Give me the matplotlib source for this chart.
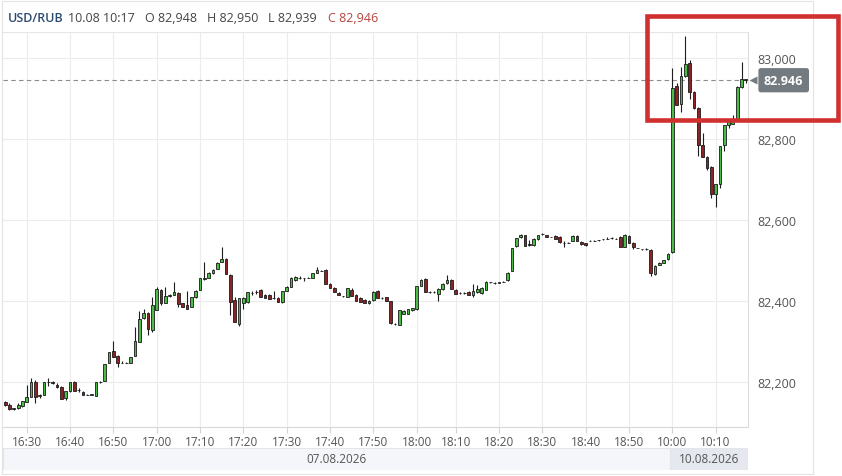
import matplotlib
matplotlib.use('Agg')
import matplotlib.pyplot as plt
import matplotlib.transforms as mtransforms
from matplotlib.patches import Rectangle
import numpy as np
import pandas as pd

plt.rcParams['font.family'] = ['Open Sans', 'DejaVu Sans']

symbol = 'USD/RUB'
day1_start, day1_end = '2026-08-07 16:25', '2026-08-07 18:59'
day1_missing = '2026-08-07 18:04'
day2_start, day2_end = '2026-08-10 10:00', '2026-08-10 10:17'
price_ticks = [82200, 82400, 82600, 82800, 83000]

# 1-minute candles
opens = [82151, 82145, 82135, 82137, 82142, 82151, 82165, 82202, 82167, 82169,
         82200, 82200, 82194, 82188, 82161, 82178, 82200, 82182, 82177, 82170,
         82170, 82167, 82200, 82204, 82247, 82277, 82266, 82249, 82249, 82249,
         82265, 82299, 82358, 82371, 82330, 82380, 82428, 82397, 82414, 82417,
         82421, 82395, 82390, 82387, 82410, 82429, 82455, 82457, 82470, 82480,
         82498, 82505, 82466, 82404, 82345, 82396, 82398, 82421, 82422, 82428,
         82417, 82417, 82408, 82408, 82399, 82426, 82436, 82452, 82459, 82457,
         82459, 82459, 82470, 82476, 82477, 82444, 82433, 82421, 82413, 82412,
         82429, 82417, 82408, 82404, 82395, 82404, 82425, 82408, 82410, 82400,
         82345, 82343, 82370, 82370, 82378, 82381, 82439, 82455, 82423, 82422,
         82418, 82430, 82446, 82453, 82429, 82421, 82421, 82423, 82415, 82422,
         82421, 82429, 82447, 82445, 82446, 82449, 82452, 82475, 82536, 82558,
         82563, 82541, 82539, 82554, 82566, 82563, 82559, 82562, 82560, 82545,
         82545, 82549, 82561, 82547, 82543, 82549, 82550, 82551, 82553, 82555,
         82557, 82555, 82559, 82535, 82561, 82545, 82532, 82529, 82529, 82527,
         82467, 82490, 82496, 82504, 82521, 82932, 82887, 82956, 82989, 82918,
         82878, 82786, 82757, 82732, 82664, 82691, 82786, 82835, 82839, 82848,
         82930, 82948]
highs = [82153, 82149, 82137, 82149, 82155, 82194, 82210, 82205, 82172, 82202,
         82210, 82204, 82198, 82190, 82178, 82202, 82203, 82186, 82179, 82171,
         82171, 82201, 82204, 82245, 82275, 82302, 82268, 82252, 82250, 82262,
         82338, 82376, 82381, 82373, 82410, 82435, 82431, 82435, 82418, 82447,
         82423, 82397, 82426, 82412, 82428, 82459, 82497, 82472, 82480, 82498,
         82534, 82507, 82468, 82410, 82408, 82410, 82424, 82426, 82428, 82430,
         82419, 82419, 82426, 82410, 82426, 82438, 82460, 82463, 82462, 82458,
         82460, 82470, 82486, 82478, 82479, 82446, 82435, 82423, 82414, 82434,
         82433, 82419, 82410, 82405, 82403, 82426, 82427, 82412, 82412, 82402,
         82346, 82380, 82378, 82382, 82384, 82437, 82455, 82458, 82426, 82426,
         82433, 82446, 82464, 82455, 82431, 82422, 82422, 82425, 82443, 82441,
         82435, 82451, 82449, 82447, 82448, 82451, 82472, 82533, 82557, 82567,
         82565, 82551, 82556, 82565, 82569, 82565, 82560, 82564, 82562, 82548,
         82546, 82564, 82563, 82548, 82544, 82551, 82551, 82552, 82554, 82558,
         82559, 82557, 82561, 82566, 82563, 82546, 82533, 82530, 82533, 82529,
         82489, 82497, 82503, 82519, 82975, 82938, 82979, 83055, 82996, 82920,
         82880, 82815, 82759, 82734, 82691, 82784, 82835, 82845, 82860, 82931,
         82992, 82950]
lows = [82142, 82133, 82132, 82135, 82140, 82151, 82165, 82149, 82161, 82168,
        82190, 82196, 82186, 82158, 82157, 82176, 82180, 82177, 82169, 82169,
        82169, 82167, 82198, 82204, 82247, 82263, 82239, 82247, 82248, 82247,
        82265, 82299, 82356, 82316, 82325, 82380, 82390, 82395, 82410, 82417,
        82386, 82385, 82381, 82385, 82408, 82429, 82454, 82457, 82468, 82480,
        82497, 82467, 82367, 82349, 82340, 82382, 82396, 82417, 82418, 82410,
        82408, 82406, 82406, 82398, 82397, 82425, 82435, 82450, 82456, 82451,
        82458, 82458, 82469, 82475, 82443, 82432, 82422, 82416, 82412, 82410,
        82414, 82400, 82399, 82397, 82394, 82402, 82408, 82405, 82402, 82345,
        82343, 82342, 82368, 82368, 82377, 82380, 82437, 82422, 82420, 82420,
        82400, 82428, 82444, 82430, 82418, 82419, 82419, 82415, 82410, 82420,
        82419, 82428, 82446, 82443, 82445, 82448, 82450, 82474, 82535, 82556,
        82537, 82537, 82537, 82552, 82563, 82558, 82558, 82555, 82545, 82535,
        82543, 82548, 82549, 82540, 82538, 82548, 82549, 82550, 82552, 82553,
        82555, 82554, 82535, 82534, 82543, 82530, 82531, 82528, 82528, 82462,
        82466, 82489, 82495, 82503, 82519, 82886, 82868, 82955, 82899, 82876,
        82759, 82757, 82724, 82656, 82634, 82679, 82772, 82827, 82837, 82846,
        82928, 82939]
closes = [82145, 82134, 82137, 82145, 82153, 82165, 82202, 82165, 82168, 82201,
          82201, 82199, 82188, 82159, 82178, 82200, 82180, 82181, 82170, 82170,
          82171, 82200, 82201, 82245, 82275, 82263, 82247, 82249, 82249, 82262,
          82302, 82356, 82371, 82333, 82390, 82431, 82395, 82414, 82415, 82422,
          82394, 82385, 82381, 82410, 82426, 82457, 82459, 82471, 82478, 82496,
          82504, 82467, 82398, 82349, 82408, 82408, 82422, 82421, 82423, 82410,
          82408, 82406, 82409, 82398, 82425, 82436, 82459, 82461, 82459, 82457,
          82459, 82469, 82477, 82476, 82443, 82432, 82422, 82417, 82413, 82433,
          82414, 82400, 82399, 82397, 82402, 82424, 82408, 82409, 82402, 82347,
          82345, 82378, 82377, 82381, 82383, 82437, 82453, 82422, 82422, 82423,
          82431, 82444, 82452, 82430, 82418, 82421, 82420, 82415, 82426, 82430,
          82434, 82449, 82447, 82445, 82447, 82449, 82471, 82533, 82557, 82563,
          82537, 82540, 82554, 82563, 82566, 82558, 82559, 82555, 82546, 82544,
          82545, 82562, 82549, 82541, 82539, 82550, 82550, 82551, 82553, 82555,
          82557, 82555, 82535, 82564, 82543, 82535, 82532, 82529, 82529, 82469,
          82487, 82496, 82502, 82518, 82927, 82886, 82956, 82987, 82918, 82878,
          82786, 82757, 82730, 82664, 82691, 82784, 82835, 82845, 82848, 82930,
          82948, 82946]

day1 = pd.date_range(day1_start, day1_end, freq='min').drop(pd.Timestamp(day1_missing))
day2 = pd.date_range(day2_start, day2_end, freq='min')
times = day1.append(day2)
x = np.arange(len(times))

o = np.array(opens)
c = np.array(closes)
up = c >= o

W, H = 842, 477
fig = plt.figure(figsize=(W / 100, H / 100), dpi=100)
fig.patch.set_facecolor('white')

# outer panel frame
fig.add_artist(Rectangle((2 / W, 2 / H), 811 / W, 473 / H, transform=fig.transFigure,
                         fill=False, ec='#e3e3e3', lw=0.8))

ax = fig.add_axes([3 / W, 49 / H, 745 / W, 395 / H])
ax.set_xlim(-0.5, len(times) - 0.5)
ax.set_ylim(82090, 83065)

ax.vlines(x, lows, highs, color='#1e1e1e', lw=0.8, zorder=2)
ax.bar(x, np.abs(c - o), bottom=np.minimum(o, c), width=0.62,
       color=np.where(up, '#4cbb47', '#8e2323'), edgecolor='#1b1b1b',
       linewidth=0.6, zorder=3)

# ticks
tick_idx = [i for i, t in enumerate(times) if t.minute % 10 == 0]
ax.set_xticks(tick_idx, [times[i].strftime('%H:%M') for i in tick_idx])
ax.tick_params(axis='x', length=4, color='#d4d4d4', labelsize=8.5, labelcolor='#555555', pad=2)
ax.yaxis.tick_right()
ax.set_yticks(price_ticks, [f'{p:,}' for p in price_ticks])
ax.tick_params(axis='y', length=0, pad=7, labelsize=9, labelcolor='#555555')

ax.grid(True, color='#ececec', lw=0.8)
ax.set_axisbelow(True)
for side, col in [('top', '#e6e6e6'), ('right', '#dcdcdc'), ('bottom', '#d8d8d8')]:
    ax.spines[side].set_color(col)
    ax.spines[side].set_linewidth(0.8)
ax.spines['left'].set_visible(False)

# last price line and label
last = closes[-1]
ax.axhline(last, color='#8c8c8c', lw=0.8, ls=(0, (4, 3)), zorder=1)
trans = mtransforms.blended_transform_factory(ax.transAxes, ax.transData)
ax.plot([1 + 5 / 745], [last], marker='<', ms=6, color='#737b81', mec='none',
        transform=trans, clip_on=False)
ax.text(1 + 16 / 745, last, f'{last:,}'.replace(',', '.'), transform=trans,
        ha='left', va='center', color='white', weight='bold', size=9,
        bbox=dict(boxstyle='round,pad=0.45,rounding_size=0.2', fc='#737b81', ec='none'),
        clip_on=False)

# date bar
dax = fig.add_axes([3 / W, 6 / H, 745 / W, 22 / H])
dax.set_xlim(ax.get_xlim())
dax.set_ylim(0, 1)
dax.axis('off')
split = len(day1) - 0.5
dax.add_patch(Rectangle((-0.5, 0), split + 0.5, 1, fc='#f4f6f9', ec='#e2e5ea', lw=0.8))
dax.add_patch(Rectangle((split, 0), len(times) - 0.5 - split, 1, fc='#e5e8ee', ec='#e2e5ea', lw=0.8))
dax.text((split - 0.5) / 2, 0.5, day1[0].strftime('%d.%m.%Y'), ha='center', va='center',
         size=8.5, color='#555555')
dax.text((split + len(times) - 0.5) / 2, 0.5, day2[0].strftime('%d.%m.%Y'), ha='center',
         va='center', size=8.5, color='#555555')

# header
hy = 1 - 19 / H
fig.text(8 / W, hy, symbol, color='#2d4a6e', weight='semibold', size=9, va='center')
fig.text(68 / W, hy, times[-1].strftime('%d.%m %H:%M'), color='#444444', size=9, va='center')
for xp, lab, val, col in [(145, 'O', opens[-1], '#444444'), (207, 'H', highs[-1], '#444444'),
                          (268, 'L', lows[-1], '#444444'), (328, 'C', closes[-1], '#b8443c')]:
    fig.text(xp / W, hy, f'{lab} {val:,}', color=col, size=9, va='center')

# highlight frame
fig.add_artist(Rectangle((646.5 / W, 1 - 120.5 / H), 191 / W, 104 / H,
                         transform=fig.transFigure, fill=False, ec='#d0302f', lw=3.3))

fig.savefig('out.png', dpi=100)
